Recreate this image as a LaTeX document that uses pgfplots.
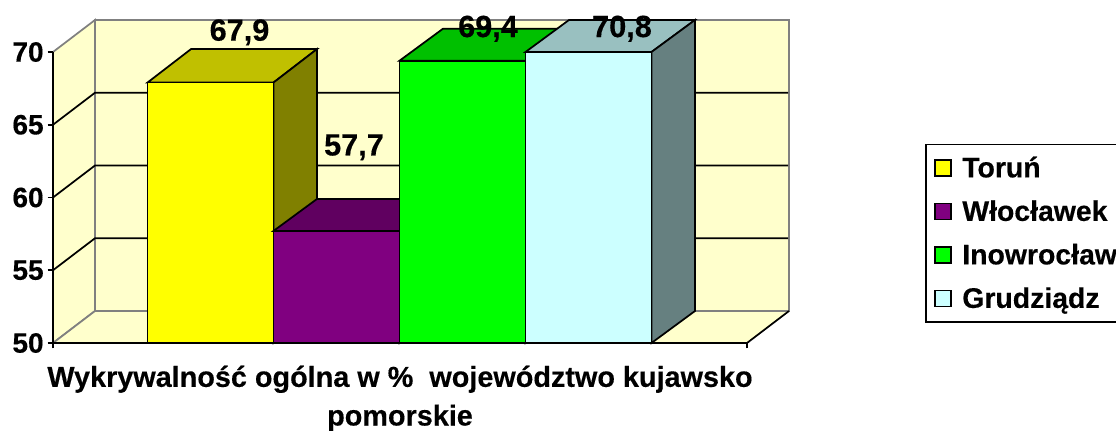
\documentclass[border=0pt]{standalone}
\usepackage{pgfplots}
\usepackage{fontspec}
\setmainfont{Liberation Sans}[BoldFeatures={FakeBold=0.35}]
\pgfplotsset{compat=1.18}
\definecolor{wall}{HTML}{FFFFCC}
\definecolor{edge}{HTML}{808080}
\definecolor{cTor}{HTML}{FFFF00}\definecolor{cTorT}{HTML}{C0C000}\definecolor{cTorS}{HTML}{808000}
\definecolor{cWlo}{HTML}{800080}\definecolor{cWloT}{HTML}{600060}\definecolor{cWloS}{HTML}{400040}
\definecolor{cIno}{HTML}{00FF00}\definecolor{cInoT}{HTML}{00C000}\definecolor{cInoS}{HTML}{008000}
\definecolor{cGru}{HTML}{CCFFFF}\definecolor{cGruT}{HTML}{99C0C0}\definecolor{cGruS}{HTML}{668080}
\pgfplotstableread{
x y label
239.5 71.35 {67,9}
354 63.45 {57,7}
488 71.6 {69,4}
622 71.6 {70,8}
}\labeltable
\newcommand{\bigbf}{\bfseries\fontsize{21}{29}\selectfont}
\newcommand{\labbf}{\bfseries\fontsize{21.6}{29}\selectfont}
\newcommand{\legbf}{\bfseries\fontsize{21.3}{29}\selectfont}
\tikzset{lw/.style={line width=1.3pt}}
\begin{document}
\begin{tikzpicture}
\begin{axis}[
  x=0.75pt, y=10.9125pt,
  xmin=53, xmax=747, ymin=50, ymax=70,
  clip=false, axis on top=true, no markers,
  axis x line=bottom, axis y line=left,
  axis line style={-, lw, black},
  tick style={lw, black},
  tick align=outside, major tick length=4pt,
  xtick={53,747}, xticklabels={},
  ytick={50,55,60,65,70},
  /pgf/number format/assume math mode=true,
  tick label style={font=\bigbf},
  yticklabel style={xshift=0.5pt},
  xlabel={Wykrywalność ogólna w \%\ \ województwo kujawsko\\pomorskie},
  xlabel style={font=\labbf, align=center, at={(axis description cs:0.5,0)}, anchor=north, yshift=-13.5pt},
  legend style={at={(axis description cs:1.2565,0.685)}, anchor=north west,
    draw=black, lw, fill=white, font=\legbf,
    row sep=11.7pt, inner xsep=6pt, inner ysep=7pt,
    legend cell align=left},
  legend image code/.code={\draw[#1, lw] (3.5pt,-6pt) rectangle (15.5pt,6pt);\path (21.5pt,0pt);},
]
% walls and floor
\addplot[forget plot, fill=wall, draw=edge, lw] coordinates {(53,50)(95,52.2)(95,72.2)(53,70)} --cycle;
\addplot[forget plot, fill=wall, draw=edge, lw] coordinates {(95,52.2)(789,52.2)(789,72.2)(95,72.2)} --cycle;
\addplot[forget plot, fill=wall, draw=none] coordinates {(53,50)(747,50)(789,52.2)(95,52.2)} --cycle;
\addplot[forget plot, draw=edge, lw] coordinates {(53,50)(95,52.2)(789,52.2)};
\addplot[forget plot, draw=black, lw] coordinates {(747,50)(789,52.2)};
% grid lines
\addplot[forget plot, draw=black, lw] coordinates {(53,55)(95,57.2)(788,57.2)};
\addplot[forget plot, draw=black, lw] coordinates {(53,60)(95,62.2)(788,62.2)};
\addplot[forget plot, draw=black, lw] coordinates {(53,65)(95,67.2)(788,67.2)};
% Torun
\addplot[forget plot, fill=cTorT, draw=black, lw] coordinates {(147.5,67.9)(273.5,67.9)(317,70.2)(191,70.2)} --cycle;
\addplot[forget plot, fill=cTorS, draw=black, lw] coordinates {(273.5,50)(317,52.2)(317,70.2)(273.5,67.9)} --cycle;
\addplot[fill=cTor, draw=black, lw] coordinates {(147.5,50)(273.5,50)(273.5,67.9)(147.5,67.9)} --cycle;
\addlegendentry{Toruń}
% Wloclawek
\addplot[forget plot, fill=cWloT, draw=black, lw] coordinates {(273.5,57.7)(399.5,57.7)(443,59.9)(317,59.9)} --cycle;
\addplot[forget plot, fill=cWloS, draw=black, lw] coordinates {(399.5,50)(443,52.2)(443,59.9)(399.5,57.7)} --cycle;
\addplot[fill=cWlo, draw=black, lw] coordinates {(273.5,50)(399.5,50)(399.5,57.7)(273.5,57.7)} --cycle;
\addlegendentry{Włocławek}
% Inowroclaw
\addplot[forget plot, fill=cInoT, draw=black, lw] coordinates {(399.5,69.4)(525.5,69.4)(569,71.6)(443,71.6)} --cycle;
\addplot[forget plot, fill=cInoS, draw=black, lw] coordinates {(525.5,50)(569,52.2)(569,71.6)(525.5,69.4)} --cycle;
\addplot[fill=cIno, draw=black, lw] coordinates {(399.5,50)(525.5,50)(525.5,69.4)(399.5,69.4)} --cycle;
\addlegendentry{Inowrocław}
% Grudziadz (bar cut off at the axis maximum)
\addplot[forget plot, fill=cGruT, draw=black, lw] coordinates {(525.5,70)(651.5,70)(695,72.2)(569,72.2)} --cycle;
\addplot[forget plot, fill=cGruS, draw=black, lw] coordinates {(651.5,50)(695,52.2)(695,72.2)(651.5,70)} --cycle;
\addplot[fill=cGru, draw=black, lw] coordinates {(525.5,50)(651.5,50)(651.5,70)(525.5,70)} --cycle;
\addlegendentry{Grudziądz}
% data labels
\addplot[forget plot, draw=none, nodes near coords, point meta=explicit symbolic,
  every node near coord/.append style={font=\bfseries\fontsize{23}{23}\selectfont, anchor=center, inner sep=0pt, text=black}]
  table[x=x, y=y, meta=label] {\labeltable};
\end{axis}
\pgfresetboundingbox
\path[use as bounding box] (-39.75pt,-66pt) rectangle (797.25pt,257.25pt);
\end{tikzpicture}
\end{document}
